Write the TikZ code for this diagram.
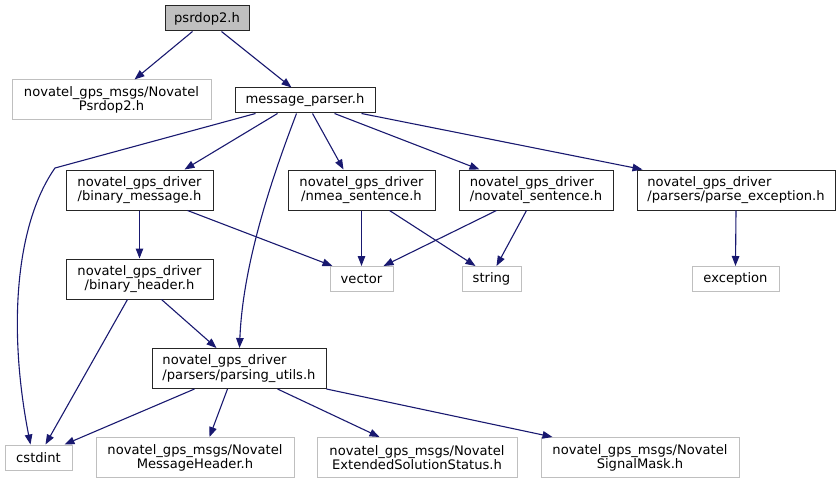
\documentclass[tikz,border=0pt]{standalone}
\usepackage{fontspec}
\setmainfont{DejaVu Sans}
\usetikzlibrary{arrows.meta}
\definecolor{edgeblue}{HTML}{191970}
\definecolor{extgray}{HTML}{BFBFBF}
\tikzset{
  box/.style={draw=black!85, line width=1pt, rectangle, inner sep=0pt, font=\fontsize{13.1}{14.2}\selectfont, text=black},
  mainbox/.style={box},
  extbox/.style={box, draw=extgray},
  rootbox/.style={box, fill=extgray},
  dep/.style={draw=edgeblue, line width=1.1pt, -{Triangle[length=10pt,width=7.5pt]}}
}
\begin{document}
\begin{tikzpicture}[x=1pt,y=-1pt]
\useasboundingbox (0,0) rectangle (840,484);
% nodes
\node[rootbox, minimum width=84, minimum height=25] (ps) at (207,18.5) {psrdop2.h};
\node[extbox, minimum width=199, minimum height=40, align=center] (nps) at (111.5,100) {novatel\_gps\_msgs/Novatel\\Psrdop2.h};
\node[mainbox, minimum width=140, minimum height=25] (mp) at (305,100.5) {message\_parser.h};
\node[mainbox, minimum width=147, minimum height=40, align=center] (bm) at (139.5,190) {novatel\_gps\_driver\\/binary\_message.h};
\node[mainbox, minimum width=147, minimum height=40, align=center] (nmea) at (361.5,190) {novatel\_gps\_driver\\/nmea\_sentence.h};
\node[mainbox, minimum width=154, minimum height=40, align=left] (ns) at (536,190) {novatel\_gps\_driver\\/novatel\_sentence.h};
\node[mainbox, minimum width=198, minimum height=40, align=left] (pe) at (736,190) {novatel\_gps\_driver\\/parsers/parse\_exception.h};
\node[extbox, minimum width=63, minimum height=25] (vec) at (361.5,279) {vector};
\node[extbox, minimum width=59, minimum height=25] (str) at (491.5,279) {string};
\node[extbox, minimum width=87, minimum height=25] (exc) at (735.5,279) {exception};
\node[mainbox, minimum width=147, minimum height=40, align=center] (bh) at (139.5,279) {novatel\_gps\_driver\\/binary\_header.h};
\node[mainbox, minimum width=174, minimum height=40, align=left] (pu) at (239,368.5) {novatel\_gps\_driver\\/parsers/parsing\_utils.h};
\node[extbox, minimum width=67, minimum height=25] (cst) at (38.5,457.5) {cstdint};
\node[extbox, minimum width=198, minimum height=40, align=center] (mh) at (195,457.5) {novatel\_gps\_msgs/Novatel\\MessageHeader.h};
\node[extbox, minimum width=200, minimum height=40, align=center] (ess) at (417,457.5) {novatel\_gps\_msgs/Novatel\\ExtendedSolutionStatus.h};
\node[extbox, minimum width=198, minimum height=40, align=center] (sm) at (640,457.5) {novatel\_gps\_msgs/Novatel\\SignalMask.h};
% edges
\draw[dep] ([xshift=28]ps.south west) -- ([xshift=123]nps.north west);
\draw[dep] ([xshift=57]ps.south west) -- ([xshift=57]mp.north west);
\draw[dep] ([xshift=21]mp.south west) -- (55,168) .. controls (15,225) and (8,330) .. ([xshift=26]cst.north west);
\draw[dep] ([xshift=43]mp.south west) -- ([xshift=119]bm.north west);
\draw[dep] ([xshift=62]mp.south west) .. controls (275,170) and (243,260) .. ([xshift=88]pu.north west);
\draw[dep] ([xshift=78]mp.south west) -- ([xshift=56]nmea.north west);
\draw[dep] ([xshift=100]mp.south west) -- ([xshift=21]ns.north west);
\draw[dep] ([xshift=127]mp.south west) -- ([xshift=6]pe.north west);
\draw[dep] (bm.south) -- (bh.north);
\draw[dep] ([xshift=122]bm.south west) -- ([xshift=3]vec.north west);
\draw[dep] (nmea.south) -- (vec.north);
\draw[dep] ([xshift=102]nmea.south west) -- ([xshift=14]str.north west);
\draw[dep] ([xshift=38]ns.south west) -- ([xshift=54]vec.north west);
\draw[dep] ([xshift=68]ns.south west) -- ([xshift=35]str.north west);
\draw[dep] (pe.south) -- (exc.north);
\draw[dep] ([xshift=62]bh.south west) -- ([xshift=41]cst.north west);
\draw[dep] ([xshift=96]bh.south west) -- ([xshift=65]pu.north west);
\draw[dep] ([xshift=43]pu.south west) -- ([xshift=60]cst.north west);
\draw[dep] ([xshift=76]pu.south west) -- ([xshift=114]mh.north west);
\draw[dep] ([xshift=126]pu.south west) -- ([xshift=63]ess.north west);
\draw[dep] (pu.south east) -- ([xshift=12]sm.north west);
\end{tikzpicture}
\end{document}
